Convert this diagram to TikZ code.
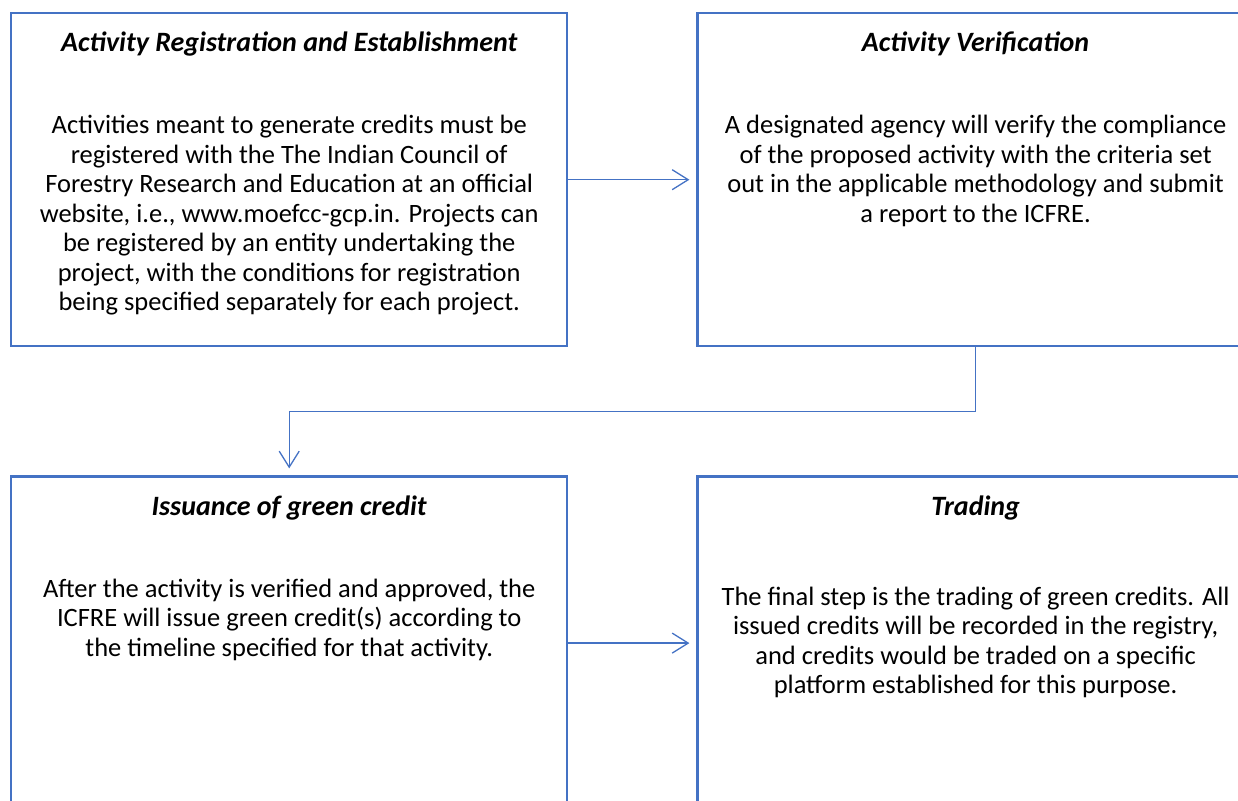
\documentclass[tikz,border=0pt]{standalone}
\usepackage{fontspec}
\setmainfont{Carlito}
\usetikzlibrary{arrows.meta,positioning}
\definecolor{stepblue}{HTML}{4472C4}
\tikzset{
  stage/.style={
    draw=stepblue,
    line width=2.4pt,
    minimum width=556pt,
    minimum height=333pt,
    inner sep=0pt
  },
  heading/.style={
    anchor=base,
    inner sep=0pt,
    font=\fontsize{28}{29.5}\selectfont\bfseries\itshape
  },
  body/.style={
    anchor=north,
    align=center,
    inner sep=0pt,
    font=\fontsize{26.5}{29.5}\selectfont,
    execute at begin node={\rule{0pt}{20pt}}
  },
  flow/.style={draw=stepblue, line width=1.3pt, -{Straight Barb[length=16pt,width=20pt]}, shorten >=7pt}
}

\begin{document}
\begin{tikzpicture}[node distance=128pt]
  \useasboundingbox (0,0) rectangle (1238pt,-800pt);
  \clip (0,0) rectangle (1238pt,-800pt);

  % the four stages
  \node[stage, anchor=north west] (reg) at (10pt,-12pt) {};
  \node[stage, right=of reg] (verif) {};
  \node[stage, below=of reg] (issue) {};
  \node[stage, right=of issue] (trade) {};

  \node[heading] (regtitle) at ([yshift=-40pt]reg.north) {Activity Registration and Establishment};
  \node[body] (regtext) at ([yshift=-103pt]reg.north) {Activities meant to generate credits must be\\registered with the The Indian Council of\\Forestry Research and Education at an official\\website, i.e., www.moefcc-gcp.in. Projects can\\be registered by an entity undertaking the\\project, with the conditions for registration\\being specified separately for each project.};

  \node[heading] (veriftitle) at ([yshift=-40pt]verif.north) {Activity Verification};
  \node[body] (veriftext) at ([yshift=-103pt]verif.north) {A designated agency will verify the compliance\\of the proposed activity with the criteria set\\out in the applicable methodology and submit\\a report to the ICFRE.};

  \node[heading] (issuetitle) at ([yshift=-40pt]issue.north) {Issuance of green credit};
  \node[body] (issuetext) at ([yshift=-103pt]issue.north) {After the activity is verified and approved, the\\ICFRE will issue green credit(s) according to\\the timeline specified for that activity.};

  \node[heading] (tradetitle) at ([yshift=-40pt]trade.north) {Trading};
  \node[body] (tradetext) at ([yshift=-111pt]trade.north) {The final step is the trading of green credits. All\\issued credits will be recorded in the registry,\\and credits would be traded on a specific\\platform established for this purpose.};

  % connectors
  \draw[flow] (reg) -- (verif);
  \draw[flow] (verif.south) -- ++(0,-64pt) -| (issue.north);
  \draw[flow] (issue) -- (trade);
\end{tikzpicture}
\end{document}
